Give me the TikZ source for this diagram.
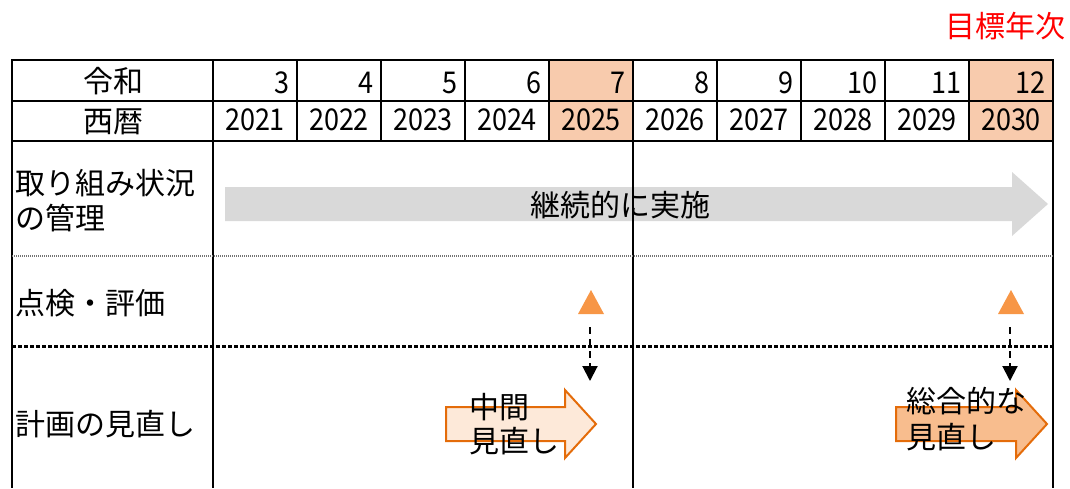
\documentclass[tikz,border=0pt]{standalone}
\usepackage{fontspec}
\setmainfont{Noto Sans CJK JP}
\newfontfamily\numf[FakeStretch=0.9]{Noto Sans CJK JP}
\usetikzlibrary{arrows.meta}
\definecolor{peach}{HTML}{F8CBAD}
\definecolor{agray}{HTML}{D9D9D9}
\definecolor{tri}{HTML}{F79646}
\definecolor{oborder}{HTML}{E46C0A}
\definecolor{lightpeach}{HTML}{FDE9D9}
\definecolor{midpeach}{HTML}{F8BD8E}
\begin{document}
\begin{tikzpicture}[x=1pt,y=-1pt,
  tbl/.style={line width=2.4pt,black},
  lbl/.style={font=\fontsize{30}{35}\selectfont,inner sep=0pt},
  numtxt/.style={font=\numf\fontsize{30}{32}\selectfont,inner sep=0pt},
  trimark/.style={fill=tri,draw=none},
  dasharrow/.style={line width=2pt,dash pattern=on 7pt off 5pt,-{Triangle[width=15pt,length=15pt]}},
  blockarrow/.style={draw=oborder,line width=2pt,line join=miter}]
\useasboundingbox (0,0) rectangle (1070,488);
% header fills
\fill[peach] (549,60) rectangle (633,141);
\fill[peach] (969,60) rectangle (1053,141);
% gray arrow
\fill[agray] (225,187) -- (1012,187) -- (1012,172) -- (1048,204) -- (1012,236) -- (1012,221) -- (225,221) -- cycle;
% grid
\draw[tbl] (12,60) -- (1053,60);
\draw[tbl] (12,101) -- (1053,101);
\draw[tbl] (12,141) -- (1053,141);
\draw[tbl] (12,59) -- (12,488);
\draw[tbl] (213,60) -- (213,488);
\draw[tbl] (1053,59) -- (1053,488);
\draw[tbl] (633,60) -- (633,488);
\foreach \k in {1,2,3,4,6,7,8,9} {\draw[tbl] (213+84*\k,60) -- (213+84*\k,141);}
\draw[line width=1.4pt,black!55,dash pattern=on 1pt off 1pt] (12,256) -- (1053,256);
\draw[line width=3pt,black,dash pattern=on 3.5pt off 2.5pt] (12,346) -- (1053,346);
% header texts
\node[lbl] (reiwa) at (113,81) {令和};
\node[lbl] (seireki) at (113,122) {西暦};
\foreach \k/\r/\y in {1/3/2021,2/4/2022,3/5/2023,4/6/2024,5/7/2025,6/8/2026,7/9/2027,8/10/2028,9/11/2029,10/12/2030} {
  \node[numtxt,anchor=east] (r\k) at (213+84*\k-7,83) {\r};
  \node[numtxt] (y\k) at (213+84*\k-42,120) {\y};
}
\node[lbl,text=red,anchor=east] (goal) at (1066,26) {目標年次};
% row labels
\node[lbl,anchor=west,align=left] (kanri) at (15,201) {取り組み状況\\の管理};
\node[lbl,anchor=west] (tenken) at (15,303) {点検・評価};
\node[lbl,anchor=west] (keikaku) at (15,424) {計画の見直し};
\node[lbl] (keizoku) at (620,205) {継続的に実施};
% triangles and dashed arrows
\fill[trimark] (591,290) -- (604,314) -- (578,314) -- cycle;
\fill[trimark] (1011,290) -- (1024,314) -- (998,314) -- cycle;
\coordinate (t1s) at (590,327);
\coordinate (t1e) at (590,381);
\coordinate (t2s) at (1010,327);
\coordinate (t2e) at (1010,381);
\draw[dasharrow] (t1s) -- (t1e);
\draw[dasharrow] (t2s) -- (t2e);
% block arrows
\filldraw[blockarrow,fill=lightpeach] (446,407) -- (565,407) -- (565,390) -- (596,424) -- (565,458) -- (565,441) -- (446,441) -- cycle;
\filldraw[blockarrow,fill=midpeach] (896,407) -- (1016,407) -- (1016,390) -- (1047,424) -- (1016,458) -- (1016,441) -- (896,441) -- cycle;
\node[lbl,anchor=west,align=left,font=\fontsize{30}{34}\selectfont] (chukan) at (469,424) {中間\\見直し};
\node[lbl,anchor=west,align=left,font=\fontsize{30}{36}\selectfont] (sogo) at (906,419) {総合的な\\見直し};
\end{tikzpicture}
\end{document}
